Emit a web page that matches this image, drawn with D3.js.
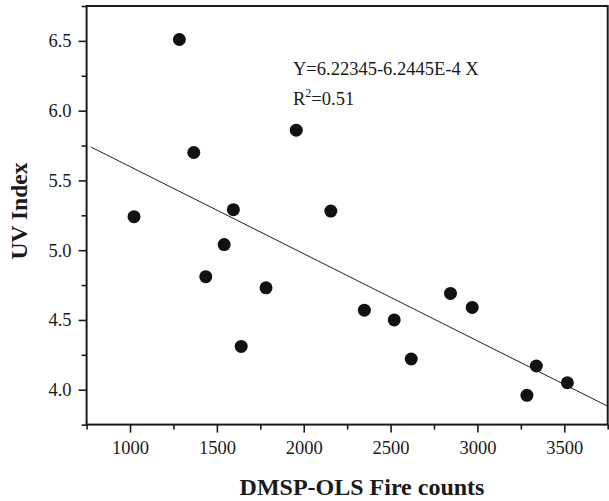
<!DOCTYPE html>
<html>
<head>
<meta charset="utf-8">
<script src="https://cdn.jsdelivr.net/npm/d3@7"></script>
<style>
  html, body { margin: 0; padding: 0; background: #fff; }
  svg { display: block; }
  text { font-family: "Liberation Serif", "Times New Roman", serif; fill: #1a1a1a; }
</style>
</head>
<body>
<svg id="chart" width="609" height="501"></svg>
<script>
// Fire counts vs. UV index
const fireCounts = [1023, 1284, 1367, 1436, 1542, 1595, 1640, 1783, 1957, 2156, 2349, 2521, 2619, 2845, 2970, 3285, 3339, 3518];
const uvIndex    = [5.24, 6.51, 5.70, 4.81, 5.04, 5.29, 4.31, 4.73, 5.86, 5.28, 4.57, 4.50, 4.22, 4.69, 4.59, 3.96, 4.17, 4.05];

// Linear fit: Y = a + b X
const fitIntercept = 6.22345;
const fitSlope = -6.2445e-4;
const fitRange = [775, 3750];
const fitLabel = "Y=6.22345-6.2445E-4 X";
const r2Value = "0.51";

const xMajorTicks = [1000, 1500, 2000, 2500, 3000, 3500];
const xMinorTicks = [750, 1250, 1750, 2250, 2750, 3250, 3750];
const yMajorTicks = [4.0, 4.5, 5.0, 5.5, 6.0, 6.5];
const yMinorTicks = [3.75, 4.25, 4.75, 5.25, 5.75, 6.25, 6.75];

const xTitle = "DMSP-OLS Fire counts";
const yTitle = "UV Index";

const svg = d3.select("#chart");
const plotLeft = 86.6, plotRight = 607.7, plotTop = 6, plotBottom = 424.6;

const x = d3.scaleLinear().domain([750, 3750]).range([plotLeft, plotRight]);
const y = d3.scaleLinear().domain([3.75, 6.75]).range([plotBottom, plotTop]);

// Frame
svg.append("rect")
  .attr("x", plotLeft).attr("y", plotTop)
  .attr("width", plotRight - plotLeft).attr("height", plotBottom - plotTop)
  .attr("fill", "none").attr("stroke", "#1a1a1a").attr("stroke-width", 2);

// X axis
const gx = svg.append("g").attr("transform", `translate(0,${plotBottom})`);
gx.call(d3.axisBottom(x).tickValues(xMajorTicks).tickSize(8).tickPadding(8).tickFormat(d3.format("d")));
const gxm = svg.append("g").attr("transform", `translate(0,${plotBottom})`);
gxm.call(d3.axisBottom(x).tickValues(xMinorTicks).tickSize(5).tickFormat(""));

// Y axis
const gy = svg.append("g").attr("transform", `translate(${plotLeft},0)`);
gy.call(d3.axisLeft(y).tickValues(yMajorTicks).tickSize(8).tickPadding(7).tickFormat(d3.format(".1f")));
const gym = svg.append("g").attr("transform", `translate(${plotLeft},0)`);
gym.call(d3.axisLeft(y).tickValues(yMinorTicks).tickSize(5).tickFormat(""));

svg.selectAll(".domain").remove();
svg.selectAll(".tick line").attr("stroke", "#1a1a1a").attr("stroke-width", 1.6);
svg.selectAll(".tick text")
  .attr("font-family", "Liberation Serif, serif")
  .attr("font-size", 18.5)
  .attr("fill", "#1a1a1a");

// Regression line
svg.append("line")
  .attr("x1", x(fitRange[0])).attr("y1", y(fitIntercept + fitSlope * fitRange[0]))
  .attr("x2", x(fitRange[1])).attr("y2", y(fitIntercept + fitSlope * fitRange[1]))
  .attr("stroke", "#222").attr("stroke-width", 1);

// Points
svg.append("g").selectAll("circle")
  .data(fireCounts.map((v, i) => [v, uvIndex[i]]))
  .join("circle")
  .attr("cx", d => x(d[0]))
  .attr("cy", d => y(d[1]))
  .attr("r", 6.5)
  .attr("fill", "#111");

// Equation and R²
svg.append("text")
  .attr("x", 293).attr("y", 75)
  .attr("font-size", 18.5)
  .text(fitLabel);

const r2 = svg.append("text").attr("x", 293).attr("y", 105).attr("font-size", 18.5);
r2.append("tspan").text("R");
r2.append("tspan").attr("font-size", 12).attr("dy", -8).text("2");
r2.append("tspan").attr("dy", 8).text("=" + r2Value);

// Axis titles
svg.append("text")
  .attr("x", 362).attr("y", 495)
  .attr("text-anchor", "middle")
  .attr("font-size", 24).attr("font-weight", "bold")
  .text(xTitle);

svg.append("text")
  .attr("transform", "translate(27,211) rotate(-90)")
  .attr("text-anchor", "middle")
  .attr("font-size", 23.5).attr("font-weight", "bold")
  .text(yTitle);
</script>
</body>
</html>
